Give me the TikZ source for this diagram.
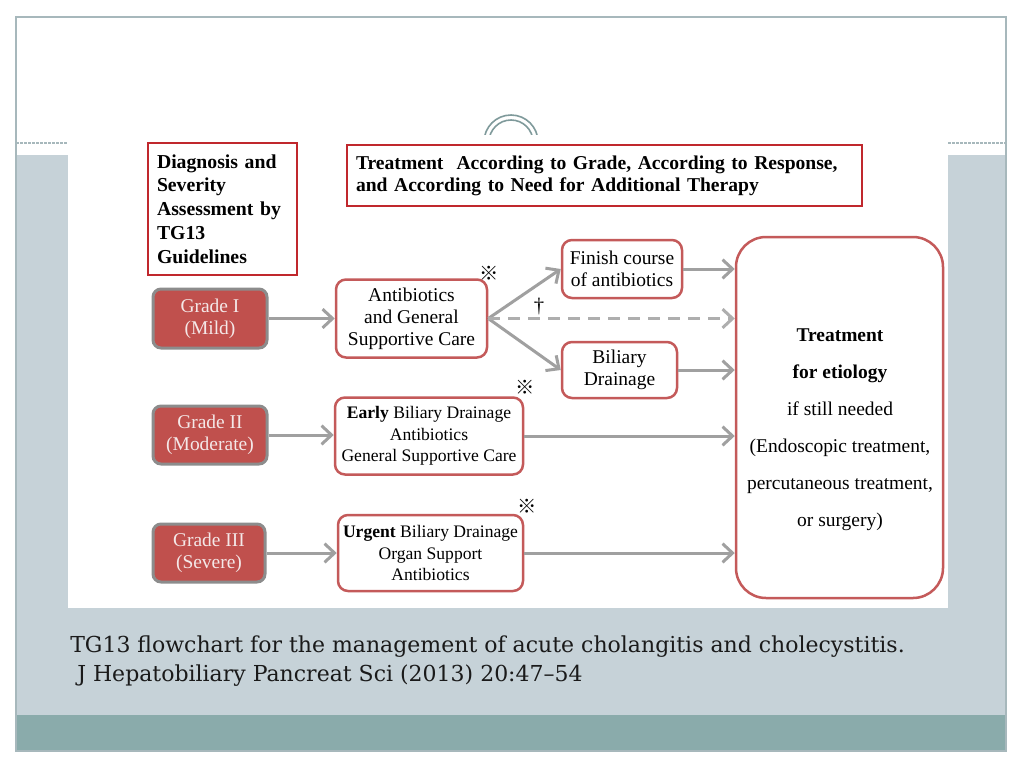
\documentclass[tikz,border=0pt]{standalone}
\usepackage{fontspec}
\setmainfont{Liberation Serif}
\newfontfamily\capfont{DejaVu Serif}
\newfontfamily\symfont{Noto Sans CJK JP}
\usetikzlibrary{arrows.meta}
\newlength\pxu \setlength\pxu{0.75pt}
\definecolor{bandgray}{HTML}{C6D2D8}
\definecolor{bandteal}{HTML}{8AABAB}
\definecolor{framegray}{HTML}{A7B8BC}
\definecolor{arcteal}{HTML}{7F9A9B}
\definecolor{hdrred}{HTML}{C0282D}
\definecolor{boxred}{HTML}{C45A5A}
\definecolor{gradered}{HTML}{C0504D}
\definecolor{gradegray}{HTML}{8C8C8C}
\definecolor{gradetext}{HTML}{F4E8E8}
\definecolor{arrgray}{HTML}{A0A0A0}
\definecolor{captext}{HTML}{1A1A1A}
\tikzset{
  hdr/.style={draw=hdrred, line width=2.8\pxu, fill=white, inner ysep=0pt, inner xsep=9\pxu,
    font=\bfseries\fontsize{14.8}{17.8}\selectfont, align=left},
  grade/.style={draw=gradegray, line width=3\pxu, fill=gradered, rounded corners=8\pxu,
    text=gradetext, font=\fontsize{14.6}{16.5}\selectfont, align=center, inner sep=0pt},
  tbox/.style={draw=boxred, line width=2.5\pxu, fill=white, rounded corners=10\pxu,
    align=center, inner sep=0pt, font=\fontsize{14.6}{16.5}\selectfont},
  smalltext/.style={font=\fontsize{13.2}{16.1}\selectfont},
  arr/.style={draw=arrgray, line width=3\pxu, -{Straight Barb[length=7.5pt,width=14pt]}},
  dasharr/.style={arr, draw=arrgray!85, dash pattern=on 9pt off 6pt},
  refmark/.style={font=\symfont\fontsize{14.5}{14.5}\selectfont, inner sep=0pt},
  captxt/.style={font=\capfont\fontsize{16.5}{18}\selectfont, text=captext, anchor=base west, inner sep=0pt}
}
\begin{document}
\begin{tikzpicture}[x=0.75pt,y=-0.75pt]
\useasboundingbox (0,0) rectangle (1024,768);
\fill[white] (0,0) rectangle (1024,768);
% slide background
\fill[bandgray] (16,155) rectangle (1006,715);
\fill[bandteal] (16,715) rectangle (1006,751);
\draw[framegray, line width=1.5\pxu] (16,17) rectangle (1006,751);
\draw[framegray, line width=1.2\pxu, dash pattern=on 2pt off 1pt] (16,143) -- (68,143);
\draw[framegray, line width=1.2\pxu, dash pattern=on 2pt off 1pt] (948,143) -- (1006,143);
\draw[arcteal, line width=1.6\pxu] (484,142) arc (180:360:27);
\draw[arcteal, line width=1.6\pxu] (489,142) arc (180:360:22);
% figure area
\fill[white] (68,135) rectangle (948,608);
% headers
\node[hdr, text width=131\pxu, minimum height=132\pxu] (diag) at (222.5,209)
  {Diagnosis and\\Severity\\Assessment by\\TG13\\Guidelines};
\node[hdr, text width=497\pxu, minimum height=61\pxu, font=\bfseries\fontsize{14.7}{16.5}\selectfont] (treat) at (604.5,175.5)
  {Treatment\ \ According to Grade, According to Response,\\and According to Need for Additional Therapy};
% grades
\node[grade, minimum width=114\pxu, minimum height=59\pxu] (g1) at (210,318.5) {Grade I\\(Mild)};
\node[grade, minimum width=114\pxu, minimum height=58\pxu] (g2) at (210,435) {Grade II\\(Moderate)};
\node[grade, minimum width=112\pxu, minimum height=58\pxu] (g3) at (209,553) {Grade III\\(Severe)};
% treatment boxes
\node[tbox, minimum width=151\pxu, minimum height=78\pxu] (ab) at (411.5,318.5) {Antibiotics\\and General\\Supportive Care};
\node[tbox, minimum width=120\pxu, minimum height=58\pxu] (fin) at (622,269) {Finish course\\of antibiotics};
\node[tbox, minimum width=115\pxu, minimum height=56\pxu] (bil) at (619.5,370) {Biliary\\Drainage};
\node[tbox, smalltext, minimum width=188\pxu, minimum height=77\pxu] (early) at (429,436) {\textbf{Early} Biliary Drainage\\Antibiotics\\General Supportive Care};
\node[tbox, smalltext, minimum width=185\pxu, minimum height=76\pxu] (urg) at (430.5,553) {\textbf{Urgent} Biliary Drainage\\Organ Support\\Antibiotics};
\node[tbox, rounded corners=30\pxu, minimum width=207\pxu, minimum height=361\pxu] (big) at (839.5,417.5) {};
\node[align=center, inner sep=0pt, font=\fontsize{14.6}{27.7}\selectfont] (bigtext) at (840,430)
  {\textbf{Treatment}\\\textbf{for etiology}\\if still needed\\(Endoscopic treatment,\\percutaneous treatment,\\or surgery)};
% marks
\node[refmark] (m1) at (489,273) {※};
\node[refmark] (m2) at (525,387) {※};
\node[refmark] (m3) at (527,506) {※};
\node[font=\fontsize{15.5}{16}\selectfont, inner sep=0pt] (dg) at (539,307) {†};
% connectors
\draw[arr] (g1.east) -- (ab.west);
\draw[arr] (ab.east) -- (fin.west);
\draw[arr] (ab.east) -- (bil.west);
\draw[dasharr] (ab.east) -- (ab.east -| big.west);
\draw[arr] (fin.east) -- (fin.east -| big.west);
\draw[arr] (bil.east) -- (bil.east -| big.west);
\draw[arr] (g2.east) -- (g2.east -| early.west);
\draw[arr] (early.east) -- (early.east -| big.west);
\draw[arr] (g3.east) -- (urg.west);
\draw[arr] (urg.east) -- (urg.east -| big.west);
% caption
\node[captxt] (cap1) at (70,652) {TG13 flowchart for the management of acute cholangitis and cholecystitis.};
\node[captxt] (cap2) at (70,681) {\ J Hepatobiliary Pancreat Sci (2013) 20:47–54};
\end{tikzpicture}
\end{document}
